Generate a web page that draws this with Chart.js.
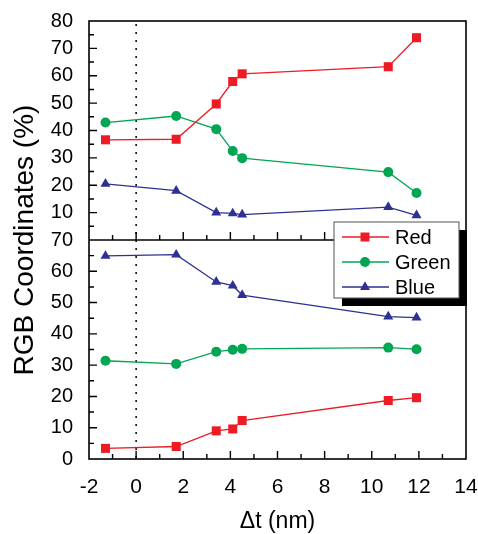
<!DOCTYPE html>
<html lang="en">
<head>
<meta charset="UTF-8" />
<title>RGB Coordinates</title>
<script src="https://cdn.jsdelivr.net/npm/chart.js@4.4.1/dist/chart.umd.min.js"></script>
<style>
  body { margin: 0; background: #fff; }
  #wrap { width: 478px; height: 534px; }
</style>
</head>
<body>
<div id="wrap"><canvas id="Graph"></canvas></div>
<script>
// shared x values, delta t in nm
const dt = [-1.3, 1.7, 3.4, 4.1, 4.5, 10.7, 11.9];

// upper panel
const redTop   = [36.6, 36.8, 49.7, 57.9, 60.7, 63.3, 73.9];
const greenTop = [42.9, 45.3, 40.5, 32.5, 29.9, 24.8, 17.2];
const blueTop  = [20.5, 18.0, 10.0, 9.7, 9.3, 12.0, 9.0];

// lower panel
const redBot   = [3.4, 4.0, 9.0, 9.6, 12.3, 18.7, 19.6];
const greenBot = [31.4, 30.4, 34.3, 34.9, 35.2, 35.6, 35.1];
const blueBot  = [64.9, 65.3, 56.6, 55.4, 52.4, 45.5, 45.2];

const names = ['Red', 'Green', 'Blue'];
const colors = ['#ED1C24', '#00A651', '#2E3192'];
const markers = ['rect', 'circle', 'triangle'];
const radii = [6.4, 5, 5.8];

const FONT = '"Liberation Sans", Arial, sans-serif';
Chart.defaults.font.family = FONT;
Chart.defaults.color = '#000';

function pts(arr) {
  return dt.map((x, i) => ({ x: x, y: arr[i] }));
}

function ds(i, arr, axis) {
  return {
    label: names[i],
    data: pts(arr),
    yAxisID: axis,
    borderColor: colors[i],
    backgroundColor: colors[i],
    borderWidth: 1.3,
    pointStyle: markers[i],
    pointRadius: radii[i],
    pointHoverRadius: radii[i],
    pointBorderWidth: 0,
    tension: 0
  };
}

function mark(ctx, style, x, y, color) {
  ctx.fillStyle = color;
  ctx.beginPath();
  if (style === 'rect') {
    ctx.rect(x - 4.5, y - 4.5, 9, 9);
  } else if (style === 'circle') {
    ctx.arc(x, y, 5, 0, Math.PI * 2);
  } else {
    ctx.moveTo(x, y - 5.8);
    ctx.lineTo(x + 5, y + 2.9);
    ctx.lineTo(x - 5, y + 2.9);
    ctx.closePath();
  }
  ctx.fill();
}

function noPad(s) {
  s.paddingLeft = 0;
  s.paddingRight = 0;
  s.paddingTop = 0;
  s.paddingBottom = 0;
}

const frame = {
  id: 'frame',
  beforeDatasetsDraw(chart) {
    const ctx = chart.ctx, ca = chart.chartArea, xs = chart.scales.x;
    const x0 = xs.getPixelForValue(0);
    ctx.save();
    ctx.strokeStyle = '#000';
    ctx.lineWidth = 1.5;
    ctx.setLineDash([2, 6]);
    ctx.beginPath();
    ctx.moveTo(x0, ca.top + 3);
    ctx.lineTo(x0, ca.bottom);
    ctx.stroke();
    ctx.restore();
  },
  afterDraw(chart) {
    const ctx = chart.ctx, ca = chart.chartArea;
    const xs = chart.scales.x, yT = chart.scales.yTop, yB = chart.scales.yBot;
    ctx.save();
    ctx.strokeStyle = '#000';
    ctx.lineWidth = 1.6;
    ctx.strokeRect(ca.left, ca.top, ca.right - ca.left, ca.bottom - ca.top);
    ctx.beginPath();
    ctx.moveTo(ca.left, yT.bottom);
    ctx.lineTo(ca.right, yT.bottom);
    ctx.stroke();

    // inward ticks
    ctx.lineWidth = 1.4;
    ctx.beginPath();
    for (let v = -1; v < 14; v++) {
      const px = xs.getPixelForValue(v);
      const len = v % 2 === 0 ? 8 : 5;
      ctx.moveTo(px, yB.bottom);
      ctx.lineTo(px, yB.bottom - len);
      ctx.moveTo(px, yT.bottom);
      ctx.lineTo(px, yT.bottom - len);
    }
    [[yT, 80], [yB, 70]].forEach(([s, max]) => {
      for (let v = 5; v < max; v += 5) {
        const py = s.getPixelForValue(v);
        const len = v % 10 === 0 ? 8 : 5;
        ctx.moveTo(ca.left, py);
        ctx.lineTo(ca.left + len, py);
      }
    });
    ctx.stroke();

    // axis titles
    ctx.fillStyle = '#000';
    ctx.font = '28px ' + FONT;
    ctx.textAlign = 'center';
    ctx.textBaseline = 'alphabetic';
    ctx.save();
    ctx.translate(33, (ca.top + ca.bottom) / 2);
    ctx.rotate(-Math.PI / 2);
    ctx.fillText('RGB Coordinates (%)', 0, 0);
    ctx.restore();
    ctx.font = '23px ' + FONT;
    ctx.fillText('\u0394t (nm)', (ca.left + ca.right) / 2, 528);

    // legend
    const lw = 125, lh = 76;
    const lx = ca.right - 7 - lw, ly = yB.top - 18;
    ctx.fillStyle = '#000';
    ctx.fillRect(lx + 8, ly + 8, lw, lh);
    ctx.fillStyle = '#fff';
    ctx.fillRect(lx, ly, lw, lh);
    ctx.strokeStyle = '#555';
    ctx.lineWidth = 1;
    ctx.strokeRect(lx, ly, lw, lh);
    ctx.font = '20px ' + FONT;
    ctx.textAlign = 'left';
    ctx.textBaseline = 'middle';
    for (let i = 0; i < 3; i++) {
      const ry = ly + 15 + i * 25;
      ctx.strokeStyle = colors[i];
      ctx.lineWidth = 1.3;
      ctx.beginPath();
      ctx.moveTo(lx + 8, ry);
      ctx.lineTo(lx + 55, ry);
      ctx.stroke();
      mark(ctx, markers[i], lx + 31, ry, colors[i]);
      ctx.fillStyle = '#000';
      ctx.fillText(names[i], lx + 61, ry + 1);
    }
    ctx.restore();
  }
};

new Chart(document.getElementById('Graph'), {
  type: 'line',
  data: {
    datasets: [
      ds(0, redTop, 'yTop'), ds(1, greenTop, 'yTop'), ds(2, blueTop, 'yTop'),
      ds(0, redBot, 'yBot'), ds(1, greenBot, 'yBot'), ds(2, blueBot, 'yBot')
    ]
  },
  options: {
    responsive: true,
    maintainAspectRatio: false,
    animation: false,
    layout: { padding: { top: 21, right: 12, left: 0, bottom: 0 } },
    plugins: { legend: { display: false }, tooltip: { enabled: false } },
    scales: {
      x: {
        type: 'linear',
        min: -2,
        max: 14,
        ticks: { stepSize: 2, autoSkip: false, maxRotation: 0, font: { size: 21 }, padding: 8 },
        grid: { display: false },
        border: { display: false },
        afterFit(s) { s.height = 75; noPad(s); }
      },
      yBot: {
        type: 'linear',
        position: 'left',
        stack: 'rgb',
        stackWeight: 1,
        min: 0,
        max: 70,
        ticks: { stepSize: 10, autoSkip: false, font: { size: 20 }, padding: 8 },
        grid: { display: false },
        border: { display: false },
        afterFit(s) { s.width = 89; noPad(s); }
      },
      yTop: {
        type: 'linear',
        position: 'left',
        stack: 'rgb',
        stackWeight: 1,
        min: 0,
        max: 80,
        ticks: {
          stepSize: 10,
          autoSkip: false,
          font: { size: 20 },
          padding: 8,
          callback: v => (v === 0 ? '' : v)
        },
        grid: { display: false },
        border: { display: false },
        afterFit(s) { s.width = 89; noPad(s); }
      }
    }
  },
  plugins: [frame]
});
</script>
</body>
</html>
